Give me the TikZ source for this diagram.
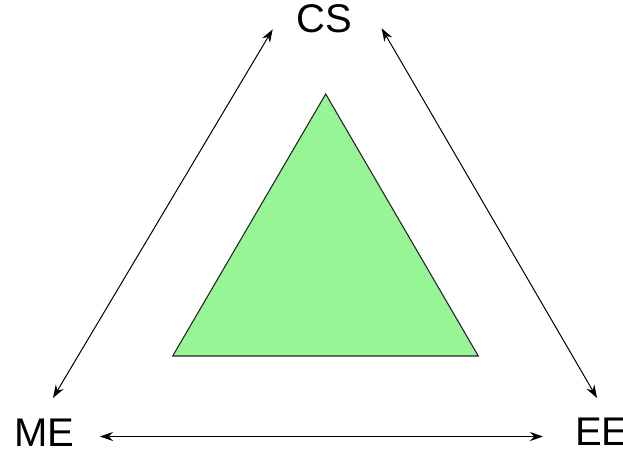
\documentclass[tikz,border=0pt]{standalone}
\usepackage{fontspec}
\setmainfont{Liberation Sans}
\usetikzlibrary{arrows.meta}
\definecolor{trigreen}{RGB}{150,246,150}
\tikzset{
  lbl/.style={inner sep=0pt, font=\fontsize{40}{48}\selectfont},
  link/.style={line width=1pt, {Stealth[length=13pt,width=9pt]}-{Stealth[length=13pt,width=9pt]}},
  tri/.style={fill=trigreen, draw=black!85, line width=1.1pt, line join=miter}
}
\begin{document}
\begin{tikzpicture}[x=1pt,y=-1pt]
\useasboundingbox (0,0) rectangle (623,451);
\node[lbl, anchor=base] (CS) at (324.5,32) {CS};
\node[lbl, anchor=base west] (ME) at (14,446) {ME};
\node[lbl, anchor=base west] (EE) at (575,445.5) {EE};
\coordinate (csL) at (272.7,29.3);
\coordinate (csR) at (381.7,28.3);
\coordinate (meT) at (53,398);
\coordinate (meR) at (100,436.5);
\coordinate (eeT) at (597,398);
\coordinate (eeL) at (543,436.5);
\draw[link] (csL) -- (meT);
\draw[link] (csR) -- (eeT);
\draw[link] (meR) -- (eeL);
\draw[tri] (325.7,94) coordinate (apex) -- (172.7,356) coordinate (bl) -- (478.3,356) coordinate (br) -- cycle;
\end{tikzpicture}
\end{document}
